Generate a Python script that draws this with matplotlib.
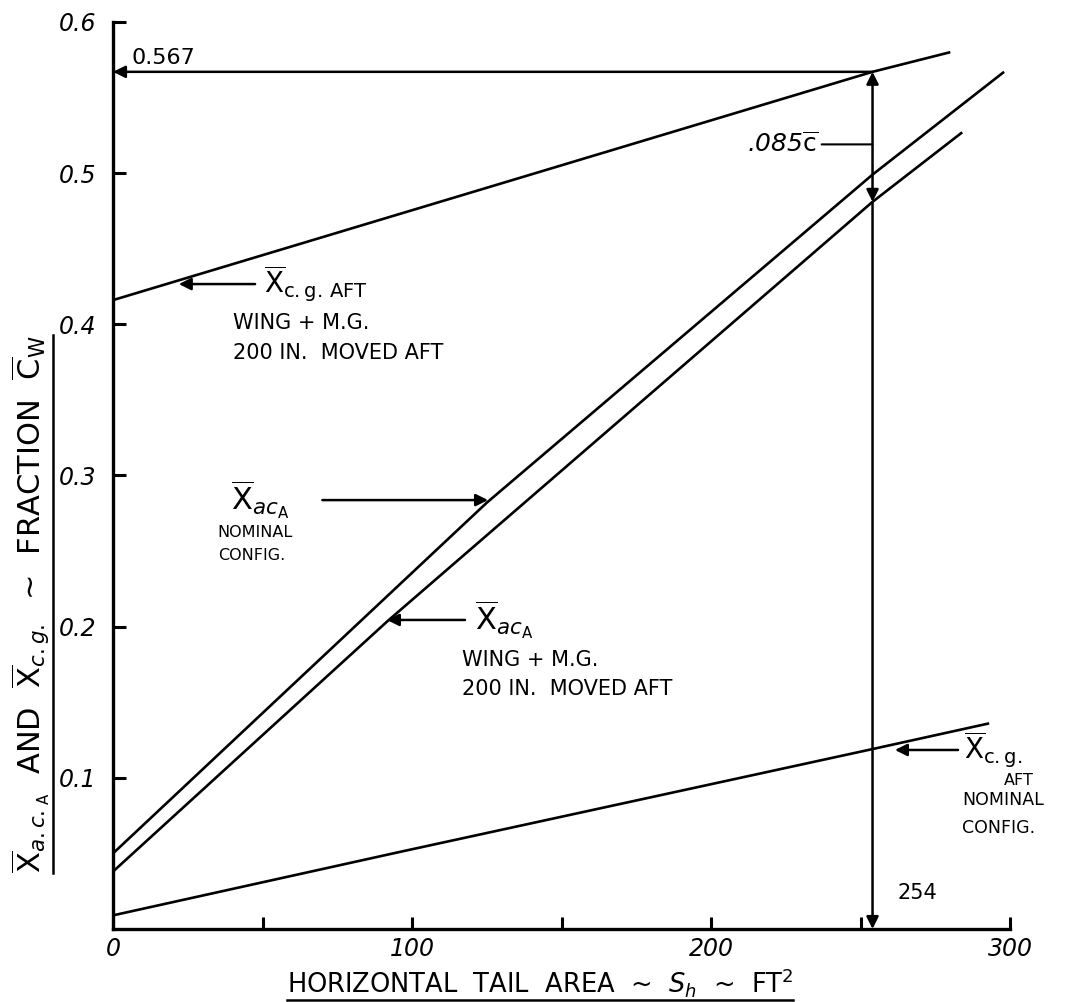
import matplotlib
matplotlib.use('Agg')
import matplotlib.pyplot as plt
from matplotlib.lines import Line2D

plt.rcParams['font.family'] = ['DejaVu Sans']
plt.rcParams['mathtext.fontset'] = 'dejavusans'

# Curves (x = tail area ft^2, y = fraction of mean chord)
cg_moved_x = [0, 254, 280]
cg_moved_y = [0.416, 0.567, 0.580]

ac_nominal_x = [0, 125, 254, 298]
ac_nominal_y = [0.050, 0.282, 0.499, 0.567]

ac_moved_x = [0, 92, 254, 284]
ac_moved_y = [0.038, 0.204, 0.481, 0.527]

cg_nominal_x = [0, 96, 254, 293]
cg_nominal_y = [0.009, 0.051, 0.119, 0.136]

# design point
S_DESIGN = 254
CG_AT_DESIGN = 0.567
AC_AT_DESIGN = 0.481

x_ticks = [0, 50, 100, 150, 200, 250, 300]
x_tick_labels = ['0', '', '100', '', '200', '', '300']
y_ticks = [0.1, 0.2, 0.3, 0.4, 0.5, 0.6]
y_tick_labels = ['0.1', '0.2', '0.3', '0.4', '0.5', '0.6']

fig = plt.figure(figsize=(10.84, 10.02), dpi=100)
ax = fig.add_axes([0.1043, 0.0729, 0.8275, 0.9052])
ax.set_xlim(0, 300)
ax.set_ylim(0, 0.6)

lw = 1.9
for xs, ys in [(cg_moved_x, cg_moved_y), (ac_nominal_x, ac_nominal_y),
               (ac_moved_x, ac_moved_y), (cg_nominal_x, cg_nominal_y)]:
    ax.plot(xs, ys, color='black', lw=lw, solid_capstyle='butt', clip_on=False)

for side in ['top', 'right']:
    ax.spines[side].set_visible(False)
for side in ['left', 'bottom']:
    ax.spines[side].set_linewidth(2.4)

ax.set_xticks(x_ticks, labels=x_tick_labels)
ax.set_yticks(y_ticks, labels=y_tick_labels)
ax.tick_params(direction='in', length=9, width=2.2, pad=12, labelsize=17)
ax.tick_params(axis='x', pad=6)
for lab in ax.get_xticklabels() + ax.get_yticklabels():
    lab.set_fontstyle('italic')

arrow = dict(arrowstyle='-|>', color='black', lw=1.8, mutation_scale=18,
             shrinkA=0, shrinkB=0)

# 0.567 horizontal construction line
ax.annotate('', xy=(0, CG_AT_DESIGN), xytext=(S_DESIGN, CG_AT_DESIGN),
            arrowprops=arrow, annotation_clip=False)
ax.text(6, 0.576, '0.567', fontsize=16, va='center', ha='left')

# vertical construction line at 254
ax.annotate('', xy=(S_DESIGN, 0), xytext=(S_DESIGN, AC_AT_DESIGN),
            arrowprops=arrow, annotation_clip=False)
ax.annotate('', xy=(S_DESIGN, AC_AT_DESIGN), xytext=(S_DESIGN, CG_AT_DESIGN),
            arrowprops=dict(arrowstyle='<|-|>', color='black', lw=1.8,
                            mutation_scale=18, shrinkA=0, shrinkB=0))
ax.annotate('', xy=(S_DESIGN, 0.519), xytext=(237, 0.519),
            arrowprops=dict(arrowstyle='-', color='black', lw=1.5,
                            shrinkA=0, shrinkB=0))
ax.text(236, 0.519, r'.085$\overline{\mathrm{c}}$', fontsize=18,
        ha='right', va='center', fontstyle='italic')
ax.text(262.5, 0.024, '254', fontsize=15, ha='left', va='center')

# label: cg aft, wing + MG moved
ax.annotate('', xy=(22, 0.4266), xytext=(47.5, 0.4266), arrowprops=arrow)
ax.text(50.5, 0.4266, r'$\overline{\mathrm{X}}_{\mathrm{c.g.\,AFT}}$', fontsize=20,
        ha='left', va='center')
ax.text(40, 0.401, 'WING + M.G.', fontsize=15, ha='left', va='center')
ax.text(40, 0.381, '200 IN.  MOVED AFT', fontsize=15, ha='left', va='center')

# label: ac nominal
ax.annotate('', xy=(125.4, 0.2837), xytext=(70, 0.2837), arrowprops=arrow)
ax.text(39.5, 0.2837, r'$\overline{\mathrm{X}}_{ac_{\mathrm{A}}}$', fontsize=22,
        ha='left', va='center')
ax.text(35, 0.262, 'NOMINAL', fontsize=11.5, ha='left', va='center')
ax.text(35, 0.247, 'CONFIG.', fontsize=11.5, ha='left', va='center')

# label: ac wing + MG moved
ax.annotate('', xy=(91.6, 0.2044), xytext=(117.7, 0.2044), arrowprops=arrow)
ax.text(121, 0.2044, r'$\overline{\mathrm{X}}_{ac_{\mathrm{A}}}$', fontsize=22,
        ha='left', va='center')
ax.text(116.7, 0.178, 'WING + M.G.', fontsize=15, ha='left', va='center')
ax.text(116.7, 0.159, '200 IN.  MOVED AFT', fontsize=15, ha='left', va='center')

# label: cg aft nominal
ax.annotate('', xy=(261.5, 0.1184), xytext=(282.6, 0.1184),
            arrowprops=arrow, annotation_clip=False)
ax.text(284.6, 0.1184, r'$\overline{\mathrm{X}}_{\mathrm{c.g.}}$', fontsize=20,
        ha='left', va='center', clip_on=False)
ax.text(298, 0.098, 'AFT', fontsize=11.5, ha='left', va='center', clip_on=False)
ax.text(284, 0.085, 'NOMINAL', fontsize=12.5, ha='left', va='center', clip_on=False)
ax.text(284, 0.067, 'CONFIG.', fontsize=12.5, ha='left', va='center', clip_on=False)

# axis titles (underlined like the original)
xl = ax.set_xlabel(r'HORIZONTAL  TAIL  AREA  ~  $S_h$  ~  FT$^2$', fontsize=18.5)
ax.xaxis.set_label_coords(0.476, -0.0595)
xl.set_verticalalignment('center')
yl = ax.set_ylabel(r'$\overline{\mathrm{X}}_{a.c._{\mathrm{A}}}$  AND  '
                   r'$\overline{\mathrm{X}}_{c.g.}$  ~  FRACTION  '
                   r'$\overline{\mathrm{C}}_{\mathrm{W}}$', fontsize=22)
ax.yaxis.set_label_coords(-0.092, 0.358)
yl.set_verticalalignment('center')

fig.canvas.draw()
inv = fig.transFigure.inverted()
bb = xl.get_window_extent()
(x0, y0), (x1, _) = inv.transform([(bb.x0, bb.y0 - 1), (bb.x1, bb.y0 - 1)])
fig.add_artist(Line2D([x0, x1], [y0, y0], color='black', lw=1.8,
                      transform=fig.transFigure))
bb = yl.get_window_extent()
(x0, y0), (_, y1) = inv.transform([(bb.x1 + 1, bb.y0), (bb.x1 + 1, bb.y1)])
fig.add_artist(Line2D([x0, x0], [y0, y1], color='black', lw=1.8,
                      transform=fig.transFigure))

fig.savefig('out.png', dpi=100)
